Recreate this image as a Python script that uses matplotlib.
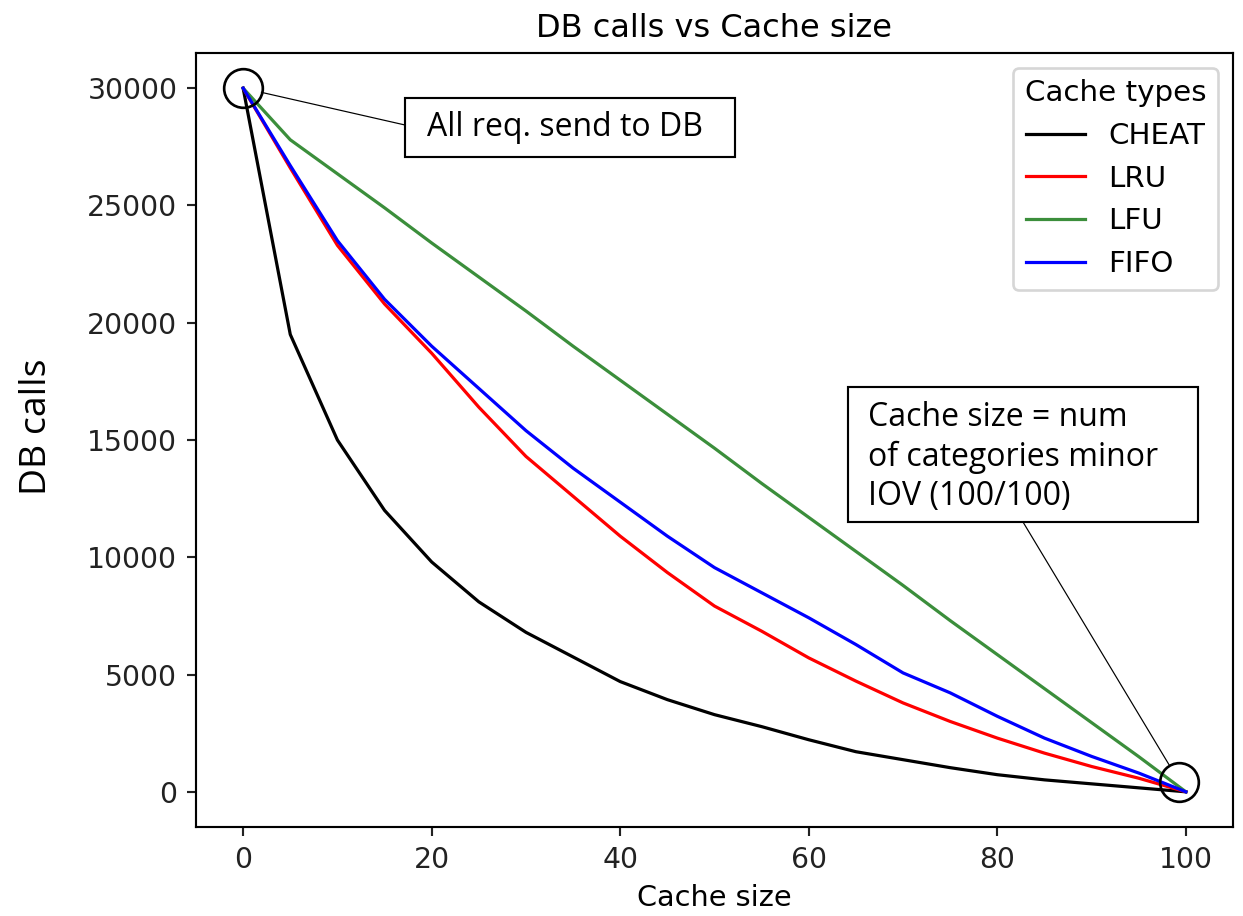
import matplotlib
matplotlib.use("Agg")
import matplotlib.pyplot as plt
from matplotlib.patches import Rectangle

# data
cache_size = [0, 5, 10, 15, 20, 25, 30, 35, 40, 45, 50,
              55, 60, 65, 70, 75, 80, 85, 90, 95, 100]
cheat = [30000, 19500, 15000, 12000, 9800, 8100, 6800, 5750, 4700, 3930, 3290,
         2780, 2220, 1710, 1370, 1030, 730, 510, 340, 170, 0]
lru = [30000, 26600, 23300, 20800, 18700, 16400, 14300, 12600, 10900, 9350, 7920,
       6850, 5710, 4720, 3790, 3000, 2290, 1650, 1080, 580, 0]
lfu = [30000, 27800, 26350, 24900, 23400, 21950, 20500, 19000, 17550, 16100, 14650,
       13150, 11700, 10250, 8800, 7300, 5850, 4400, 2950, 1500, 0]
fifo = [30000, 26700, 23500, 21000, 19000, 17200, 15400, 13800, 12350, 10900, 9560,
        8490, 7420, 6280, 5070, 4220, 3220, 2290, 1510, 800, 0]

series = [("CHEAT", cheat, "black"), ("LRU", lru, "red"),
          ("LFU", lfu, "#3b8e3b"), ("FIFO", fifo, "blue")]

# annotated points (circled)
start_pt = (cache_size[0], cheat[0])
end_pt = (99.3, 430)

W, H = 1243, 916
fig = plt.figure(figsize=(W / 192, H / 192), dpi=192)
ax = fig.add_axes([196 / W, 1 - 827 / H, (1233 - 196) / W, (827 - 53) / H])

for name, vals, col in series:
    ax.plot(cache_size, vals, color=col, lw=1.2, label=name)

ax.set_title("DB calls vs Cache size", fontsize=12)
ax.set_xlabel("Cache size", fontsize=10.8)
ax.tick_params(labelsize=10.6, colors="#222222", labelcolor="#222222")
ax.legend(title="Cache types", loc="upper right", fontsize=11, title_fontsize=11)

# circles around the two points of interest
for pt in (start_pt, end_pt):
    ax.plot(*pt, "o", ms=14.5, mfc="none", mec="black", mew=1.0, zorder=5)

anno_font = "Open Sans"

# box 1
fig.add_artist(Rectangle((405 / W, 1 - 157 / H), 330 / W, 59 / H,
                         transform=fig.transFigure, fc="white", ec="black", lw=0.8))
fig.text(427 / W, 1 - 128 / H, "All req. send to DB", family=anno_font,
         size=12, ha="left", va="center")
ax.annotate("", xy=start_pt, xycoords="data",
            xytext=(405 / W, 1 - 125 / H), textcoords="figure fraction",
            arrowprops=dict(arrowstyle="-", lw=0.45, color="black",
                            shrinkA=0, shrinkB=7))

# box 2
fig.add_artist(Rectangle((848 / W, 1 - 522 / H), 350 / W, 135 / H,
                         transform=fig.transFigure, fc="white", ec="black", lw=0.8))
fig.text(868 / W, 1 - 457 / H, "Cache size = num\nof categories minor\nIOV (100/100)",
         family=anno_font, size=12, ha="left", va="center", linespacing=1.25)
ax.annotate("", xy=end_pt, xycoords="data",
            xytext=(1023 / W, 1 - 522 / H), textcoords="figure fraction",
            arrowprops=dict(arrowstyle="-", lw=0.45, color="black",
                            shrinkA=0, shrinkB=7))

# y label
fig.text(37 / W, 1 - 427 / H, "DB calls", family=anno_font, size=14,
         rotation=90, ha="center", va="center")

fig.savefig("out.png", dpi=192)
